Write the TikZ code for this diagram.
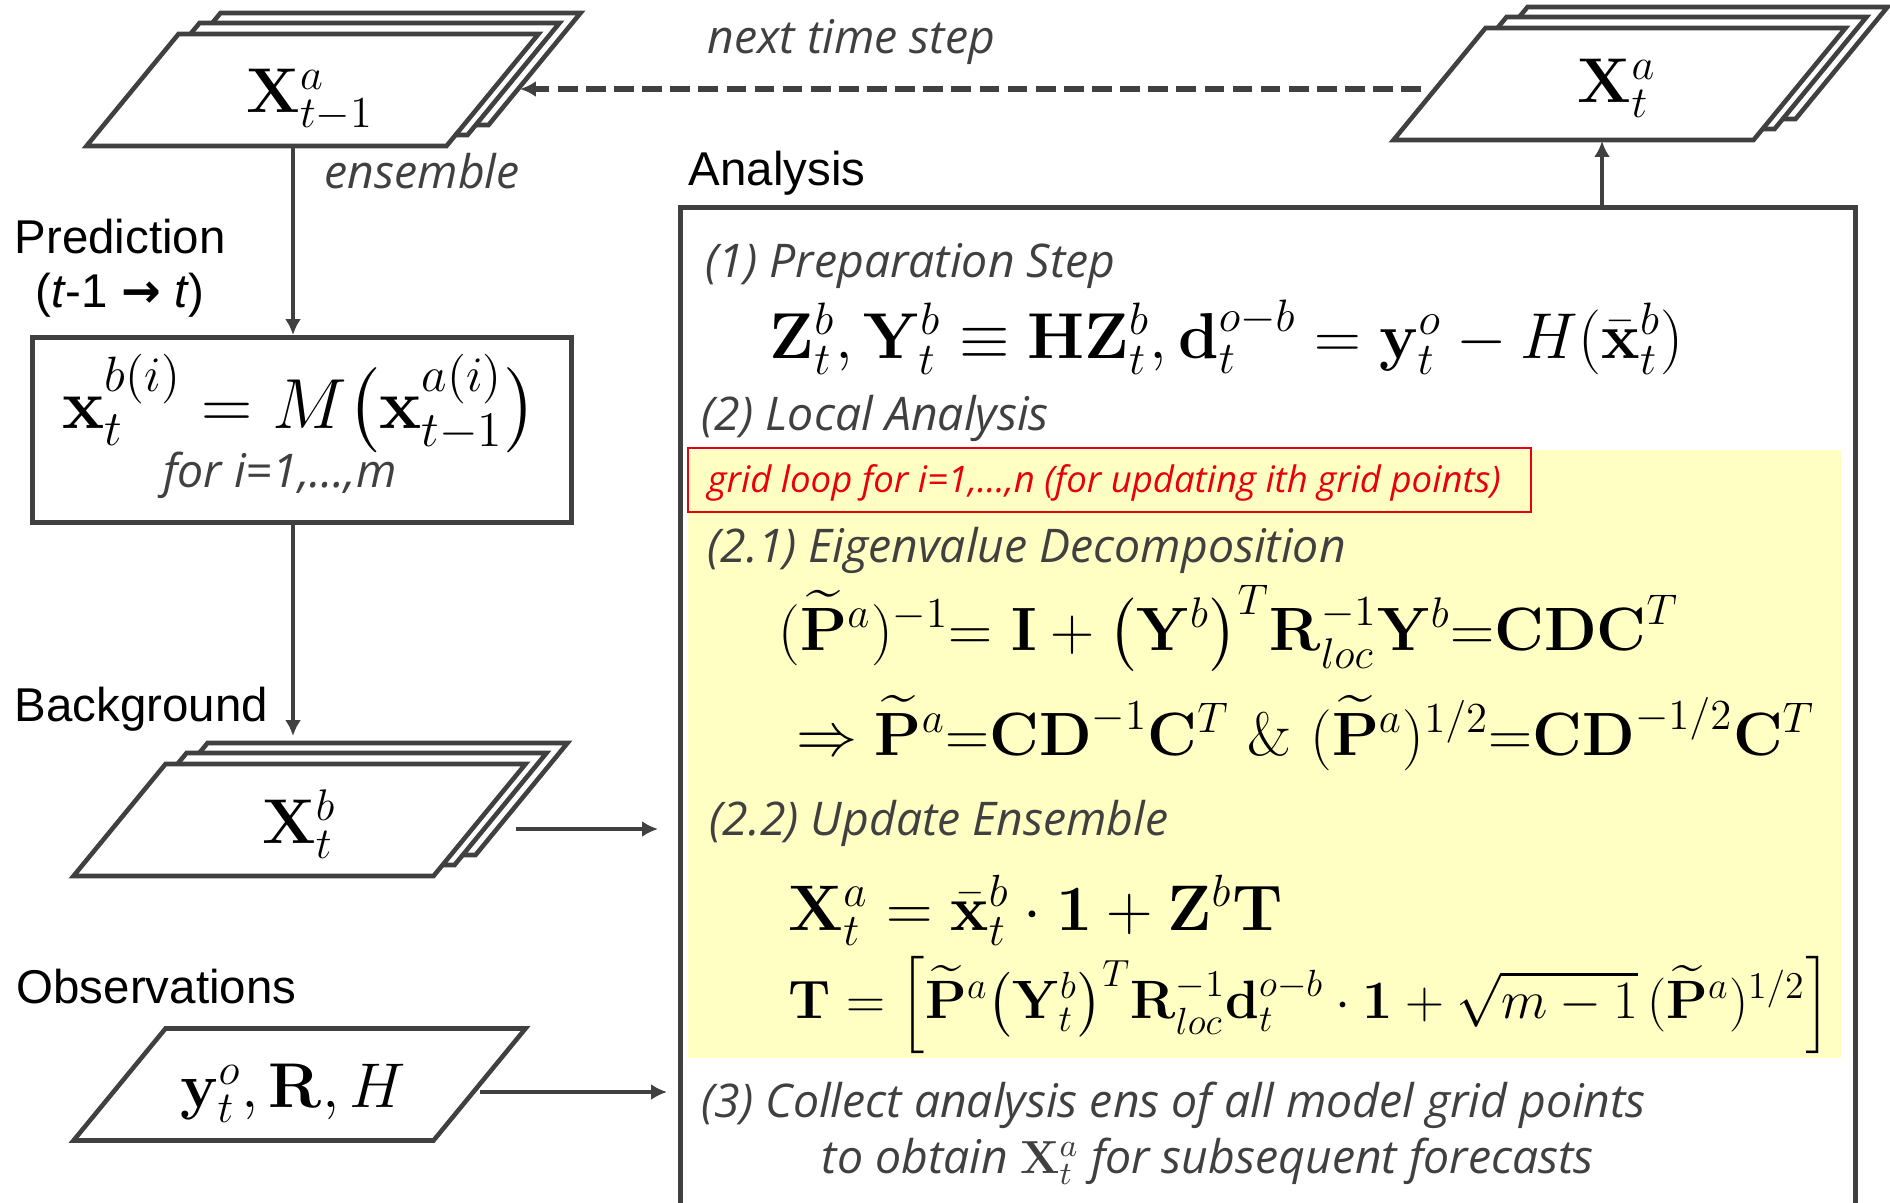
\RequirePackage{fix-cm}
\documentclass[tikz,border=0pt]{standalone}
\usepackage{amsmath,amssymb}
\usepackage[no-math]{fontspec}
\usetikzlibrary{arrows.meta}
\newfontfamily\arialf{Liberation Sans}
\newfontfamily\segf{Open Sans}
\newfontfamily\djv{DejaVu Sans}
\definecolor{lg}{HTML}{404040}
\definecolor{yel}{HTML}{FFFFC4}
\definecolor{redt}{HTML}{E8000B}
\newcommand\fitw[2]{\resizebox{#1}{!}{#2}}
\begin{document}
\begin{tikzpicture}[x=0.1mm,y=-0.1mm,
  shapeline/.style={draw=lg, line width=1.3pt},
  conn/.style={draw=lg, line width=1.1pt, -{Latex[length=4.5pt,width=4.5pt]}},
  lab/.style={font=\arialf\fontsize{13.5}{16}\selectfont, anchor=base west, inner sep=0pt, text=black},
  itl/.style={font=\segf\itshape\fontsize{13.2}{15}\selectfont, anchor=base west, inner sep=0pt, text=lg},
  mth/.style={font=\fontsize{18}{22}\selectfont, inner sep=0pt, text=black},
  para/.pic={\draw[shapeline, fill=white] (-226,56) -- (134,56) -- (226,-56) -- (-134,-56) -- cycle;},
  stackpara/.pic={\foreach \sx/\sy in {42/-21,21/-11,0/0}{\draw[shapeline, fill=white, shift={(\sx,\sy)}] (-226,56) -- (134,56) -- (226,-56) -- (-134,-56) -- cycle;}}
]
\useasboundingbox (0,0) rectangle (1890,1202);
\clip (0,0) rectangle (1890,1202);

% analysis box and backgrounds
\fill[yel] (688,450) rectangle (1841,1058);
\node[shapeline, rectangle, anchor=north west, minimum width=117.5mm, minimum height=103mm, inner sep=0pt] (anbox) at (678,205) {};
\draw[redt, line width=0.8pt] (688,448) rectangle (1531,512);

% parallelograms
\pic at (312.5,90) {stackpara};
\pic at (1619.5,84) {stackpara};
\pic at (299.5,820) {stackpara};
\pic at (299.5,1084.5) {para};
\node[shapeline, rectangle, anchor=north west, minimum width=53.9mm, minimum height=18.5mm, inner sep=0pt] (mbox) at (30,335) {};

% parallelogram texts
\node[mth, anchor=base] (xprev) at (310,112) {$\mathbf{X}_{t-1}^a$};
\node[mth, anchor=base] (xnext) at (1617,102) {$\mathbf{X}_t^a$};
\node[mth, anchor=base] (xback) at (299,843) {$\mathbf{X}_t^b$};
\node[mth, anchor=base] (obs) at (293,1107) {$\mathbf{y}_t^o, \mathbf{R}, H$};
\node[mth, anchor=base west] (model) at (62,428) {\fitw{47.4mm}{$\mathbf{x}_t^{b(i)} = M\bigl(\mathbf{x}_{t-1}^{a(i)}\bigr)$}};
\node[itl, anchor=base] (fori) at (280,487) {for i=1,…,m};

% labels
\node[lab] (pred) at (14,253) {Prediction};
\node[lab, anchor=base] (predt) at (120,307) {(\textit{t}-1 {\djv\bfseries →} \textit{t})};
\node[lab] (bg) at (14,721) {Background};
\node[lab] (obsl) at (16,1003) {Observations};
\node[lab] (anl) at (688,185) {Analysis};
\node[itl] (ens) at (324,188) {ensemble};
\node[itl] (nts) at (707,53) {next time step};

% analysis content
\node[itl] (s1) at (705,277) {(1) Preparation Step};
\node[mth, anchor=base west] (f1) at (769,358) {\fitw{91.4mm}{$\mathbf{Z}_t^b, \mathbf{Y}_t^b \equiv \mathbf{H}\mathbf{Z}_t^b, \mathbf{d}_t^{o-b} = \mathbf{y}_t^o - H(\bar{\mathbf{x}}_t^b)$}};
\node[itl] (s2) at (701,430) {(2) Local Analysis};
\node[itl, text=redt, font=\segf\itshape\fontsize{10.4}{12}\selectfont] (loop) at (707,492) {grid loop for i=1,…,n (for updating ith grid points)};
\node[itl] (s21) at (707,562) {(2.1) Eigenvalue Decomposition};
\node[mth, anchor=base west] (f2) at (778,650) {\fitw{90mm}{$(\widetilde{\mathbf{P}}^a)^{-1}{=}\ \mathbf{I} + \bigl(\mathbf{Y}^b\bigr)^T \mathbf{R}_{loc}^{-1}\mathbf{Y}^b{=}\mathbf{CDC}^T$}};
\node[mth, anchor=base west] (f3) at (796,755) {\fitw{101.8mm}{$\Rightarrow \widetilde{\mathbf{P}}^a{=}\mathbf{CD}^{-1}\mathbf{C}^T\ \&\ (\widetilde{\mathbf{P}}^a)^{1/2}{=}\mathbf{CD}^{-1/2}\mathbf{C}^T$}};
\node[itl] (s22) at (709,835) {(2.2) Update Ensemble};
\node[mth, anchor=base west] (f4) at (788,930) {\fitw{49.4mm}{$\mathbf{X}_t^a = \bar{\mathbf{x}}_t^b \cdot \mathbf{1} + \mathbf{Z}^b\mathbf{T}$}};
\node[mth, anchor=base west] (f5) at (788,1018) {\fitw{104.2mm}{$\mathbf{T} = \Bigl[\widetilde{\mathbf{P}}^a\bigl(\mathbf{Y}_t^b\bigr)^T \mathbf{R}_{loc}^{-1}\mathbf{d}_t^{o-b}\cdot\mathbf{1} + \sqrt{m-1}\,(\widetilde{\mathbf{P}}^a)^{1/2}\Bigr]$}};
\node[itl] (s3) at (701,1117) {(3) Collect analysis ens of all model grid points};
\node[itl] (s3b) at (821,1173) {to obtain $\mathbf{X}_t^a$ for subsequent forecasts};

% connectors
\coordinate (c1) at (293,146);
\coordinate (c2) at (293,520);
\coordinate (c3) at (516,829);
\coordinate (c4) at (480,1092);
\coordinate (c5) at (1602,205);
\coordinate (c6) at (1421,89);
\coordinate (c7) at (520,89);
\draw[conn] (c1) -- (c1 |- mbox.north);
\draw[conn] (c2) -- (293,736);
\draw[conn] (c3) -- (658,829);
\draw[conn] (c4) -- (667,1092);
\draw[conn] (c5) -- (1602,141);
\draw[conn, line width=1.5pt, dash pattern=on 5.6pt off 2.4pt] (c6) -- (c7);
\end{tikzpicture}
\end{document}
